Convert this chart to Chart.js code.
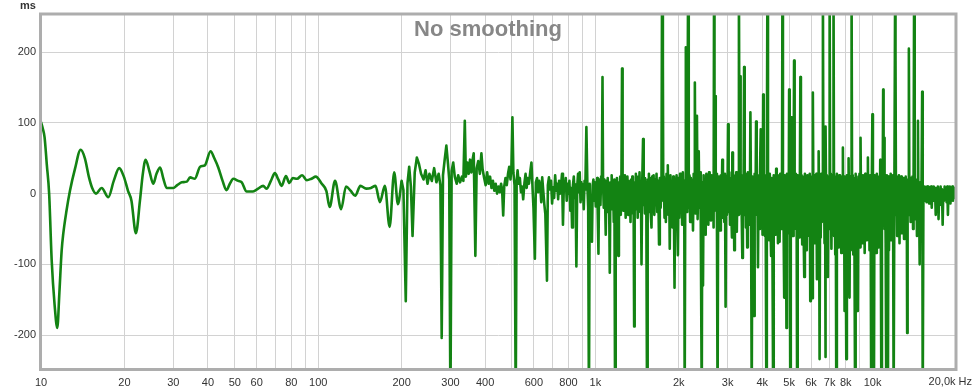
<!DOCTYPE html>
<html><head><meta charset="utf-8">
<script src="https://cdn.jsdelivr.net/npm/chart.js@4.4.1/dist/chart.umd.min.js"></script>
<style>html,body{margin:0;padding:0;background:#fff;overflow:hidden}canvas{display:block}</style>
</head><body>
<canvas id="c" width="975" height="392"></canvas>
<script>
const TITLE = 'No smoothing';
const Y_UNIT = 'ms';
const X_END_LABEL = '20,0k Hz';
const xTickValues = [10,20,30,40,50,60,70,80,90,100,200,300,400,500,600,700,800,900,1000,2000,3000,4000,5000,6000,7000,8000,9000,10000,20000];
const xTickLabels = ['10','20','30','40','50','60','','80','','100','200','300','400','','600','','800','','1k','2k','3k','4k','5k','6k','7k','8k','','10k',''];
const yTickValues = [-200,-100,0,100,200];
const yTickLabels = ['-200','-100','0','100','200'];

// [frequency Hz, group delay ms]
const lowBand = [[10,101],[10.15,92],[10.3,80],[10.5,40],[10.7,0],[10.93,-95],[11.2,-158],[11.45,-190],[11.65,-140],[11.87,-81],[12.03,-57],[12.35,-25],[12.72,4],[13.26,35],[13.9,62],[14.4,50],[14.9,23],[15.3,8],[15.8,0],[16.55,8],[17.5,-5],[18.3,18],[19.15,36],[19.9,24],[20.6,4],[21.2,-10],[22.0,-56],[22.75,-10],[23.3,28],[23.85,48],[24.6,32],[25.4,14],[26.1,28],[26.9,37],[27.6,22],[28.4,8],[30,8],[31,12],[32.2,16],[33.6,17],[34.5,23],[35.9,21],[37.5,38],[39,40],[40.9,60],[42.2,50],[43.6,37],[45.2,18],[46.7,5],[48,14],[49.4,21],[51.5,18],[53,16],[55.2,3],[58.2,3],[60.7,7],[63.3,11],[65.1,7],[67.5,18],[69.8,29],[71.8,20],[73.8,11],[76.5,25],[78.7,15],[81,22],[83.9,21],[87.5,26],[91,19],[94.5,21],[98,24],[103,14],[107,4],[110,-19],[115,18],[121,-22],[126,10],[131,4],[136,-3],[142,11],[149,7],[155,8],[161,11],[167,-12],[174,11],[181,-47],[188,30],[194,-15],[200,18]];

const midBand = [[200,18],[203,5],[207,-152],[210,15],[213,38],[216,10],[219,-60],[223,30],[227,51],[231,42],[235,28],[240,20],[244,33],[248,14],[252,28],[257,18],[262,36],[267,16],[272,28],[276,12],[279,-204],[282,26],[286,48],[290,68],[294,42],[297,20],[300,-300],[303,32],[307,44],[311,24],[316,14],[320,26],[325,16],[330,24],[334,18],[338,103],[341,24],[345,44],[349,28],[353,48],[357,30],[360,46],[364,57],[369,-88],[373,36],[378,46],[383,28],[388,57],[392,34],[397,22],[402,12],[407,30],[412,14],[417,24],[422,8],[427,18],[432,4],[437,14],[442,0],[447,10],[452,2],[457,14],[461,4],[465,-31],[469,10],[474,22],[479,12],[484,28],[489,38],[494,20],[498,40],[502,108],[506,30],[511,12],[516,-300],[520,18],[524,33],[529,14],[534,22],[539,2],[544,10],[549,-8],[555,16],[560,28],[565,8],[570,22],[576,14],[582,30],[588,44],[594,4],[598,-20],[605,-92],[610,16],[616,22],[622,2],[627,18],[633,9],[638,-12],[643,23],[648,6],[654,-14],[660,-29],[669,-123],[674,12],[680,23],[686,6],[692,18],[698,-14],[704,9],[710,-6],[716,26],[722,4],[728,14],[734,-8],[740,18],[746,0],[752,12],[758,28],[764,-44],[770,16],[776,4],[782,22],[788,-10],[794,14],[800,0],[806,18],[812,-24],[818,8],[824,-48],[830,12],[836,24],[842,-6],[848,13],[854,-103],[860,10],[866,28],[872,2],[878,30],[884,-12],[890,16],[896,-8],[902,13],[908,-22],[914,18],[920,6],[928,94],[936,10],[942,-20],[948,-300],[954,14],[960,-30],[966,-8],[972,-68],[978,12],[984,20],[990,-10],[996,16],[1003,-18],[1009,0],[1015,22],[1020,-30],[1026,-85],[1031,12],[1037,20],[1043,-16],[1049,24],[1055,8],[1061,165],[1066,14],[1072,-20],[1078,20],[1084,-10],[1090,-58],[1096,18],[1102,-26],[1108,22],[1114,-18],[1120,8],[1127,-112],[1133,16],[1139,-22],[1145,26],[1152,-8],[1158,14],[1165,-40],[1171,20],[1178,-300],[1184,18],[1190,-24],[1196,22],[1202,-14],[1210,-88],[1216,16],[1222,-20],[1229,24],[1235,-30],[1242,30],[1248,177],[1254,12],[1260,-24],[1266,22],[1272,-12],[1278,26],[1286,-34],[1292,20],[1298,-16],[1305,24],[1312,-30],[1318,18],[1325,-12],[1332,14],[1339,-40],[1346,20],[1352,-20],[1359,24],[1366,-28],[1373,10],[1380,-188],[1386,16],[1393,-20],[1400,28],[1407,-22],[1414,20],[1421,-34],[1428,24],[1436,-14],[1443,30],[1451,-26],[1459,18],[1467,-100],[1475,10],[1486,77],[1494,-16],[1502,22],[1510,-28],[1518,16],[1527,-20],[1536,-300],[1544,20],[1552,-26],[1560,28],[1568,-18],[1576,22],[1585,-30],[1594,-48],[1602,24]];

const highBandA = [[1612,-20],[1622,26],[1632,-30],[1642,20],[1652,-16],[1662,28],[1672,-26],[1685,18],[1697,-72],[1708,22],[1720,-20],[1732,16],[1740,300],[1752,183],[1758,-10],[1766,24],[1776,-34],[1786,20],[1796,-40],[1806,28],[1815,-24],[1825,40],[1835,-30],[1845,22],[1855,-78],[1866,26],[1876,-36],[1887,18],[1898,-48],[1909,24],[1920,-20],[1930,-133],[1941,20],[1952,-40],[1963,26],[1974,-30],[1985,-87],[1996,22],[2008,-34],[2020,28],[2032,-24],[2044,20],[2056,-44],[2068,30],[2080,-28],[2092,18],[2100,-300],[2110,10],[2120,207],[2132,20],[2145,-26],[2160,300],[2172,-20],[2185,26],[2198,-40],[2211,22],[2224,-30],[2237,18],[2250,-52],[2263,28],[2276,-20],[2285,157],[2297,-28],[2310,20],[2325,110],[2338,-36],[2350,24],[2360,60],[2372,-20],[2385,30],[2400,-40],[2420,-300],[2430,16],[2445,-130],[2458,26],[2472,-34],[2486,20],[2500,-58],[2514,28],[2528,-26],[2542,22],[2556,-44],[2570,30],[2584,-20],[2598,18],[2612,-38],[2627,26],[2642,-30],[2657,20],[2670,-48],[2680,300],[2690,20],[2705,138],[2718,-24],[2732,28],[2745,-36],[2760,-300],[2774,24],[2789,-30],[2804,20],[2820,-52],[2836,26],[2852,-22],[2870,48],[2886,-34],[2902,22],[2918,-40],[2934,28],[2950,-160],[2966,24],[2982,-30],[3000,20],[3010,98],[3026,-26],[3043,30],[3060,-44],[3077,22],[3094,-28],[3110,-62],[3120,58],[3136,-20],[3153,26],[3170,-80],[3187,24],[3204,-36],[3221,30],[3238,-54],[3256,20],[3274,-30],[3295,300],[3310,24],[3325,166],[3342,-28],[3360,22],[3375,-40],[3390,-91],[3406,26],[3423,-24],[3440,179],[3457,-30],[3475,28],[3493,-48],[3511,22],[3530,-76],[3549,30],[3568,-26],[3587,20],[3606,-44],[3625,115],[3645,-20],[3665,-300],[3685,24],[3710,-40],[3735,-173],[3755,28],[3780,-30],[3800,102],[3820,-24],[3840,26],[3860,-104],[3880,22],[3900,-50],[3925,30],[3950,91],[3970,-34],[3990,24],[4010,-58],[4030,140],[4050,-26],[4070,26],[4090,-60],[4110,20],[4140,-300],[4155,30],[4175,300],[4195,-30],[4215,24],[4235,-66],[4258,28],[4280,-40],[4305,-88],[4328,22],[4350,-50],[4380,-300],[4400,26],[4422,-36],[4445,20],[4468,-58],[4490,35],[4512,-30],[4535,26],[4558,-70],[4580,22],[4600,-40],[4620,-68],[4645,28],[4668,-34],[4690,24],[4710,-50],[4730,300],[4750,20],[4775,-44],[4800,-147],[4822,26],[4845,-40],[4868,22],[4890,-190],[4912,28],[4935,-30],[4960,20],[4980,-56]];

const highBandB = [[5000,147],[5025,-20],[5050,-300],[5070,24],[5090,108],[5115,-30],[5140,26],[5165,-60],[5190,22],[5210,188],[5235,-34],[5260,28],[5290,-50],[5318,20],[5345,-300],[5370,26],[5398,-40],[5425,22],[5455,-62],[5490,165],[5515,-30],[5545,26],[5575,-72],[5605,24],[5635,-44],[5670,-118],[5700,28],[5730,-52],[5760,22],[5790,-80],[5820,26],[5850,-40],[5880,20],[5910,-60],[5935,28],[5960,-152],[5990,24],[6025,-50],[6060,-148],[6090,143],[6120,-30],[6150,26],[6180,-70],[6210,22],[6240,-44],[6270,28],[6300,-121],[6330,20],[6360,-56],[6390,60],[6415,-30],[6440,-234],[6470,24],[6500,-62],[6530,28],[6560,-40],[6590,20],[6620,300],[6650,-30],[6680,26],[6710,-70],[6740,22],[6755,-231],[6780,95],[6810,-44],[6840,26],[6870,-60],[6900,-118],[6930,24],[6965,-40],[7000,300],[7035,-50],[7070,28],[7105,-78],[7140,22],[7175,-44],[7200,26],[7230,300],[7265,-60],[7300,24],[7335,-86],[7365,20],[7400,-300],[7435,28],[7470,-50],[7510,22],[7550,-76],[7590,26],[7630,-40],[7670,24],[7710,-84],[7750,20],[7780,-50],[7815,65],[7850,-60],[7890,24],[7925,-166],[7960,20],[8000,-70],[8040,-234],[8080,26],[8120,-50],[8160,20],[8195,50],[8225,-60],[8260,-147],[8300,24],[8340,-80],[8370,22],[8400,300],[8440,-40],[8480,26],[8520,-86],[8560,22],[8600,-56],[8650,-300],[8690,28],[8730,-70],[8770,20],[8810,-90],[8850,-166],[8890,24],[8930,-50],[8970,28],[9010,-76],[9050,79],[9095,-40],[9140,24],[9185,-70],[9230,26],[9275,-52],[9320,22],[9365,-84],[9410,28],[9455,-40],[9500,20],[9545,-66],[9585,26],[9620,51],[9660,-50],[9705,22],[9750,-80],[9800,26],[9845,-44],[9890,-300],[9940,20],[9985,112],[10030,-60],[10075,24],[10115,-300],[10160,26],[10210,-70],[10260,22],[10310,-84],[10360,28],[10410,-50],[10460,20],[10510,-76],[10560,24],[10610,-44],[10660,48],[10710,-60],[10760,-300],[10810,24],[10860,-40],[10920,147],[10960,-30],[11000,79],[11050,-50],[11100,22],[11150,-70],[11210,-300],[11260,26],[11310,-40],[11360,-300],[11410,24],[11460,-80],[11515,20],[11570,-44],[11625,28],[11680,-66],[11735,22],[11790,-50],[11850,26],[11915,-300],[11990,20],[12065,300],[12100,198],[12150,-30],[12210,24],[12270,-60],[12330,20],[12390,-44],[12450,26],[12510,-70],[12570,18],[12630,-36],[12690,24],[12750,-56],[12810,20],[12870,-40],[12930,22],[12990,-64],[13050,18],[13110,-34],[13170,24],[13230,-50],[13280,20],[13330,-197],[13380,14],[13450,-30],[13520,205],[13580,-20],[13650,22],[13720,-40],[13790,18],[13860,-30],[13930,24],[14000,-50],[14060,16],[14125,300],[14190,-20],[14250,20],[14320,-36],[14390,14],[14460,-60],[14520,18],[14580,103],[14640,-30],[14700,12],[14790,-100],[14860,16],[14930,-20],[15020,12],[15100,144],[15150,0],[15190,-300]];

const topBand = [[15260,8],[15340,-10],[15420,10],[15500,-6],[15580,8],[15660,-12],[15740,10],[15820,-4],[15900,10],[15990,-14],[16080,8],[16170,-8],[16260,10],[16350,-20],[16440,6],[16530,-10],[16620,10],[16710,-6],[16800,8],[16900,-30],[17000,6],[17100,-12],[17200,10],[17300,-36],[17400,4],[17500,-8],[17600,10],[17700,-16],[17800,6],[17900,-44],[18000,4],[18100,-10],[18200,10],[18300,-6],[18400,8],[18500,-12],[18600,10],[18700,-30],[18800,6],[18900,-8],[19000,10],[19100,-14],[19200,8],[19300,-4],[19400,10],[19500,-10],[19600,6],[19700,-6],[19800,8],[19900,4]];

const GREEN = '#138313';
const FONT = '"Liberation Sans", Arial, sans-serif';
const toPts = a => a.map(p => ({x: p[0], y: p[1]}));
const noisy = toPts([].concat(midBand, highBandA, highBandB, topBand));

const framePlugin = {
  id: 'frame',
  beforeDatasetsDraw(chart) {
    const ctx = chart.ctx;
    ctx.save();
    ctx.font = 'bold 22px ' + FONT;
    ctx.fillStyle = '#878787';
    ctx.textAlign = 'center';
    ctx.textBaseline = 'alphabetic';
    ctx.fillText(TITLE, 488, 36);
    ctx.restore();
  },
  afterDraw(chart) {
    const ctx = chart.ctx, a = chart.chartArea;
    ctx.save();
    ctx.strokeStyle = '#adadad';
    ctx.lineWidth = 3;
    ctx.strokeRect(a.left - 0.5, a.top, a.right - a.left + 0.5, a.bottom - a.top + 0.5);
    ctx.fillStyle = '#333';
    ctx.font = 'bold 11px ' + FONT;
    ctx.textAlign = 'center';
    ctx.textBaseline = 'middle';
    ctx.fillText(Y_UNIT, 28, 6);
    ctx.font = '11px ' + FONT;
    ctx.textAlign = 'right';
    ctx.fillText(X_END_LABEL, 972, 382);
    ctx.restore();
  }
};

new Chart(document.getElementById('c'), {
  type: 'line',
  data: { datasets: [
    { data: toPts(lowBand), borderColor: GREEN, borderWidth: 2.6, pointRadius: 0, cubicInterpolationMode: 'monotone', borderJoinStyle: 'round', borderCapStyle: 'round' },
    { data: noisy, borderColor: GREEN, borderWidth: 2.6, pointRadius: 0, tension: 0, borderJoinStyle: 'round' }
  ]},
  options: {
    responsive: false, animation: false, devicePixelRatio: 1,
    layout: { padding: { top: 14, right: 19, left: 0, bottom: 0 } },
    plugins: { legend: { display: false }, tooltip: { enabled: false } },
    scales: {
      x: {
        type: 'logarithmic', min: 10, max: 20000,
        afterBuildTicks: s => { s.ticks = xTickValues.map(v => ({ value: v })); },
        afterFit: s => { s.height = 23; s.paddingLeft = 0; s.paddingRight = 0; },
        grid: { color: '#d2d2d2', lineWidth: 1, drawTicks: false },
        border: { display: false },
        ticks: { autoSkip: false, maxRotation: 0, minRotation: 0, padding: 7, color: '#333',
                 font: { family: FONT, size: 11 }, callback: (v, i) => xTickLabels[i] }
      },
      y: {
        min: -248, max: 254,
        afterBuildTicks: s => { s.ticks = yTickValues.map(v => ({ value: v })); },
        afterFit: s => { s.width = 41; s.paddingTop = 0; s.paddingBottom = 0; },
        grid: { color: '#d2d2d2', lineWidth: 1, drawTicks: false },
        border: { display: false },
        ticks: { padding: 5, color: '#333', font: { family: FONT, size: 11 },
                 callback: (v, i) => yTickLabels[i] }
      }
    }
  },
  plugins: [framePlugin]
});
</script>
</body></html>
